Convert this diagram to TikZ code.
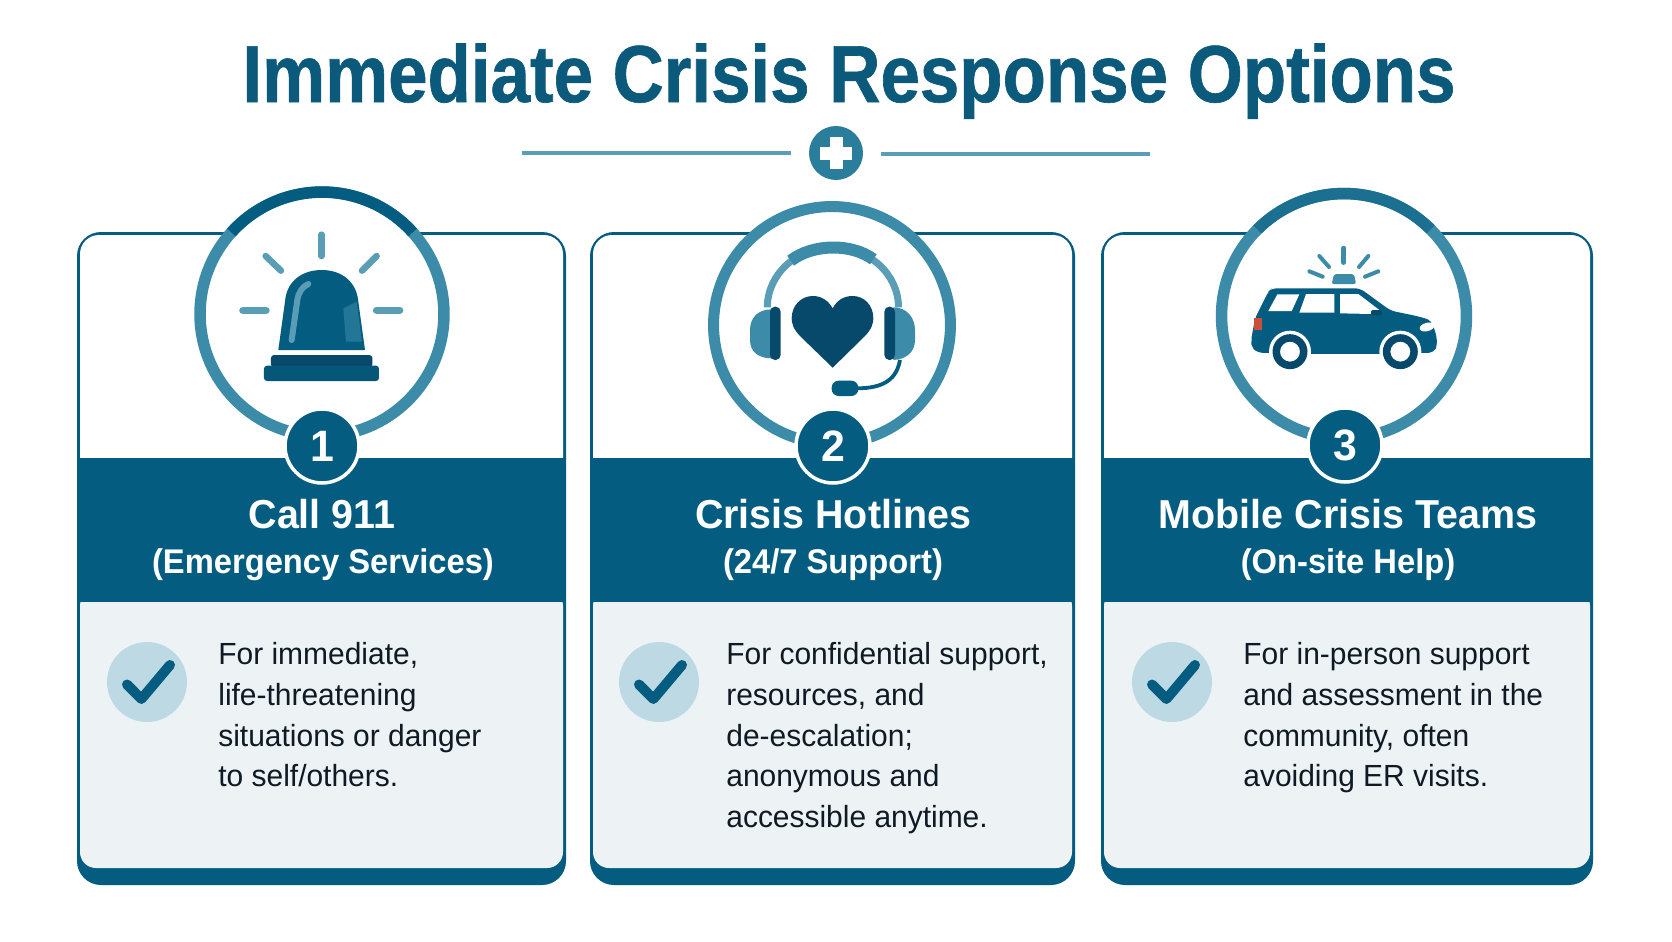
\documentclass[tikz,border=0pt]{standalone}
\usepackage{fontspec}
\setmainfont{Liberation Sans}[FakeStretch=0.98]
\newfontfamily\titlef{Liberation Sans Bold}[FakeStretch=0.877,FakeBold=0.8]
\newfontfamily\headf{Liberation Sans Bold}[FakeStretch=0.975]
\newfontfamily\subf{Liberation Sans Bold}[FakeStretch=0.955]
\definecolor{cdark}{HTML}{045D81}
\definecolor{cmid}{HTML}{3C8BA8}
\definecolor{clight}{HTML}{5A9DB6}
\definecolor{cdeep}{HTML}{07496A}
\definecolor{cpanel}{HTML}{EDF2F5}
\definecolor{ccheck}{HTML}{BDD9E3}
\definecolor{ctext}{HTML}{0F1A24}
\definecolor{ctitle}{HTML}{0B5A7C}
\definecolor{ctail}{HTML}{C8503A}
\def\pxu{0.569pt}
\newcommand{\pxsize}[2]{\fontsize{#1}{#2}\selectfont}
\tikzset{
  ringline/.style={draw=cmid,line width=11.5*\pxu},
  badge/.style={circle,fill=cdark,draw=white,line width=3.5*\pxu,minimum size=74*\pxu,inner sep=0pt,text=white,font=\headf\pxsize{25pt}{25pt}},
  bodytext/.style={anchor=north west,align=left,inner sep=0pt,text=ctext,font=\pxsize{17.4pt}{23.2pt}},
  headone/.style={text=white,inner sep=0pt,anchor=base,font=\headf\pxsize{23pt}{23pt}},
  headtwo/.style={text=white,inner sep=0pt,anchor=base,font=\subf\pxsize{19.5pt}{19.5pt}},
  checkcirc/.style={circle,fill=ccheck,minimum size=80*\pxu,inner sep=0pt},
  checkline/.style={draw=cdark,line width=10*\pxu,line cap=round,line join=round},
  ray/.style={draw=clight,line cap=round},
  zoomed/.style={shift={#1},x=0.006667cm,y=-0.006667cm}
}
\newcommand{\cardbase}[2]{%
  \fill[cdark,rounded corners=24*\pxu] (#1,232) rectangle (#2,885);
  \fill[white,rounded corners=19*\pxu] (#1+3,235) rectangle (#2-3,600);
  \fill[cpanel,rounded corners=16*\pxu] (#1+3,590) rectangle (#2-3,868);
  \fill[cdark] (#1,458) rectangle (#2,602);
}
\newcommand{\checkmk}[2]{%
  \node[checkcirc] (#1) at (#2,682) {};
  \draw[checkline] ([shift={(-20,2.5)}]#1.center) -- ([shift={(-5.6,17)}]#1.center) -- ([shift={(23,-17)}]#1.center);
}
\begin{document}
\begin{tikzpicture}[x=0.02cm,y=-0.02cm]
\useasboundingbox (0,0) rectangle (1672,941);
\fill[white] (0,0) rectangle (1672,941);
% title
\node[anchor=base,inner sep=0pt,text=ctitle] (title) at (849,102) {\titlef\pxsize{46pt}{46pt}Immediate Crisis Response Options};
% divider
\coordinate (dl1) at (522,153);\coordinate (dl2) at (791,153);
\coordinate (dr1) at (881,153.5);\coordinate (dr2) at (1150,153.5);
\draw[clight,line width=4*\pxu] (dl1) -- (dl2);
\draw[clight,line width=4*\pxu] (dr1) -- (dr2);
\node[circle,fill=cmid!70!cdark,minimum size=54*\pxu,inner sep=0pt] (plus) at (836,153) {};
\fill[white] ([shift={(-16,-6.5)}]plus.center) rectangle ([shift={(16,6.5)}]plus.center);
\fill[white] ([shift={(-6.5,-16)}]plus.center) rectangle ([shift={(6.5,16)}]plus.center);
% cards
\cardbase{77}{566}
\cardbase{590}{1075}
\cardbase{1101}{1593}
% rings
\coordinate (r1) at (322,314);
\coordinate (r2) at (832,325);
\coordinate (r3) at (1344,316);
\node[circle,fill=white,minimum size=244*\pxu,inner sep=0pt] (w1) at (r1) {};
\node[circle,fill=white,minimum size=236*\pxu,inner sep=0pt] (w2) at (r2) {};
\node[circle,fill=white,minimum size=245*\pxu,inner sep=0pt] (w3) at (r3) {};
\draw[ringline] (r1) circle[radius=122*\pxu];
\draw[cdark,line width=11.5*\pxu] ([shift={(42:122*\pxu)}]r1) arc[start angle=42,end angle=138,radius=122*\pxu];
\draw[ringline,line width=11*\pxu] (r2) circle[radius=118.5*\pxu];
\draw[ringline] (r3) circle[radius=122.5*\pxu];
\draw[cdark!60!cmid,line width=11.5*\pxu] ([shift={(45:122.5*\pxu)}]r3) arc[start angle=45,end angle=135,radius=122.5*\pxu];
% siren
\begin{scope}[zoomed={(60,170)}]
  \fill[cdark] (655,540) -- (675,395) .. controls (680,330) and (730,300) .. (785,300) .. controls (845,300) and (890,335) .. (895,395) -- (915,540) -- cycle;
  \fill[cmid!55!cdark] (850,415) -- (890,395) -- (906,515) -- (858,515) -- cycle;
  \draw[cmid!85!white,line width=6*\pxu,line cap=round] (695,510) -- (712,390) .. controls (716,365) and (728,350) .. (745,342);
  \fill[cdeep,rounded corners=3*\pxu] (633,555) rectangle (937,592);
  \fill[cdark!70!cdeep,rounded corners=3*\pxu] (612,587) rectangle (957,633);
  \draw[ray,line width=6.5*\pxu] (785,194) -- (785,258);
  \draw[ray,line width=6.5*\pxu] (617,258) -- (663,302);
  \draw[ray,line width=6.5*\pxu] (950,258) -- (906,302);
  \draw[ray,line width=7.5*\pxu] (549,421) -- (618,421);
  \draw[ray,line width=7.5*\pxu] (950,421) -- (1019,421);
\end{scope}
% headset
\begin{scope}[zoomed={(680,190)}]
  \draw[clight,line width=7*\pxu] (262,352) arc[start angle=180,end angle=0,x radius=65.6*\pxu,y radius=60*\pxu];
  \draw[cmid,line width=12*\pxu] (332,212) .. controls (400,160) and (516,160) .. (580,208);
  \fill[cmid] (275,358) .. controls (232,358) and (210,385) .. (210,420) -- (210,450) .. controls (210,485) and (235,505) .. (275,505) -- cycle;
  \fill[cdeep,rounded corners=5*\pxu] (270,350) rectangle (302,510);
  \fill[cmid] (640,352) .. controls (682,352) and (705,385) .. (705,420) -- (705,450) .. controls (705,485) and (680,508) .. (640,510) -- cycle;
  \fill[cdeep,rounded corners=5*\pxu] (613,350) rectangle (645,510);
  \fill[cdeep] (458,533) -- (362,440) .. controls (340,418) and (335,400) .. (335,385) .. controls (335,345) and (365,318) .. (398,318) .. controls (425,318) and (445,332) .. (458,355) .. controls (470,332) and (490,318) .. (518,318) .. controls (552,318) and (580,345) .. (580,385) .. controls (580,400) and (575,418) .. (553,440) -- cycle;
  \draw[cdark,line width=3.8*\pxu] (660,510) .. controls (650,565) and (615,595) .. (530,595);
  \fill[cdark,rounded corners=7*\pxu] (455,572) rectangle (535,618);
\end{scope}
% car
\begin{scope}[zoomed={(1200,180)}]
  \fill[cdark,rounded corners=5*\pxu] (155,485) -- (155,470) -- (165,415) -- (205,335) -- (215,325) -- (480,325) -- (572,392) -- (650,408) -- (692,420) -- (708,460) -- (712,495) -- (702,518) -- (540,522) -- (335,522) -- (172,518) -- (153,500) -- cycle;
  \fill[white] (232,343) -- (298,343) -- (275,393) -- (205,393) -- cycle;
  \fill[white] (318,342) -- (403,342) -- (403,398) -- (298,398) -- cycle;
  \fill[white] (420,342) -- (475,342) -- (538,390) -- (515,402) -- (420,400) -- cycle;
  \fill[cdeep,rounded corners=2*\pxu] (513,390) rectangle (546,406);
  \fill[white,rotate around={15:(681,441)}] (681,441) ellipse[x radius=7.5*\pxu,y radius=4.2*\pxu];
  \fill[ctail] (163,415) rectangle (185,450);
  \fill[white] (270,515) circle[radius=21*\pxu];
  \fill[white] (601,515) circle[radius=21*\pxu];
  \fill[white] (160,522) rectangle (720,575);
  \fill[cdeep,even odd rule] (270,515) circle[radius=17.5*\pxu] (270,515) circle[radius=10*\pxu];
  \fill[cdeep,even odd rule] (601,515) circle[radius=17.5*\pxu] (601,515) circle[radius=10*\pxu];
  \fill[cmid,rounded corners=2*\pxu] (395,312) -- (402,282) -- (462,282) -- (468,312) -- cycle;
  \draw[cmid,line width=4.5*\pxu,line cap=round] (431,204) -- (431,248);
  \draw[cmid,line width=4*\pxu,line cap=round] (358,228) -- (387,261);
  \draw[cmid,line width=4*\pxu,line cap=round] (505,228) -- (477,261);
  \draw[cmid,line width=4*\pxu,line cap=round] (328,274) -- (368,290);
  \draw[cmid,line width=4*\pxu,line cap=round] (535,274) -- (495,290);
\end{scope}
% badges
\node[badge] (b1) at (322,446) {1};
\node[badge] (b2) at (833,446) {2};
\node[badge] (b3) at (1345,445) {3};
% header text
\node[headone] (h1) at (322,528) {Call 911};
\node[headtwo] (s1) at (323,573) {(Emergency Services)};
\node[headone] (h2) at (833,528) {Crisis Hotlines};
\node[headtwo] (s2) at (833,573) {(24/7 Support)};
\node[headone] (h3) at (1348,528) {Mobile Crisis Teams};
\node[headtwo] (s3) at (1348,573) {(On-site Help)};
% check marks
\checkmk{c1}{147}
\checkmk{c2}{659}
\checkmk{c3}{1172}
% bodies
\node[bodytext] (t1) at (218,642) {For immediate,\\life-threatening\\situations or danger\\to self/others.};
\node[bodytext] (t2) at (726,642) {For confidential support,\\resources, and\\de-escalation;\\anonymous and\\accessible anytime.};
\node[bodytext] (t3) at (1243,642) {For in-person support\\and assessment in the\\community, often\\avoiding ER visits.};
\end{tikzpicture}
\end{document}
